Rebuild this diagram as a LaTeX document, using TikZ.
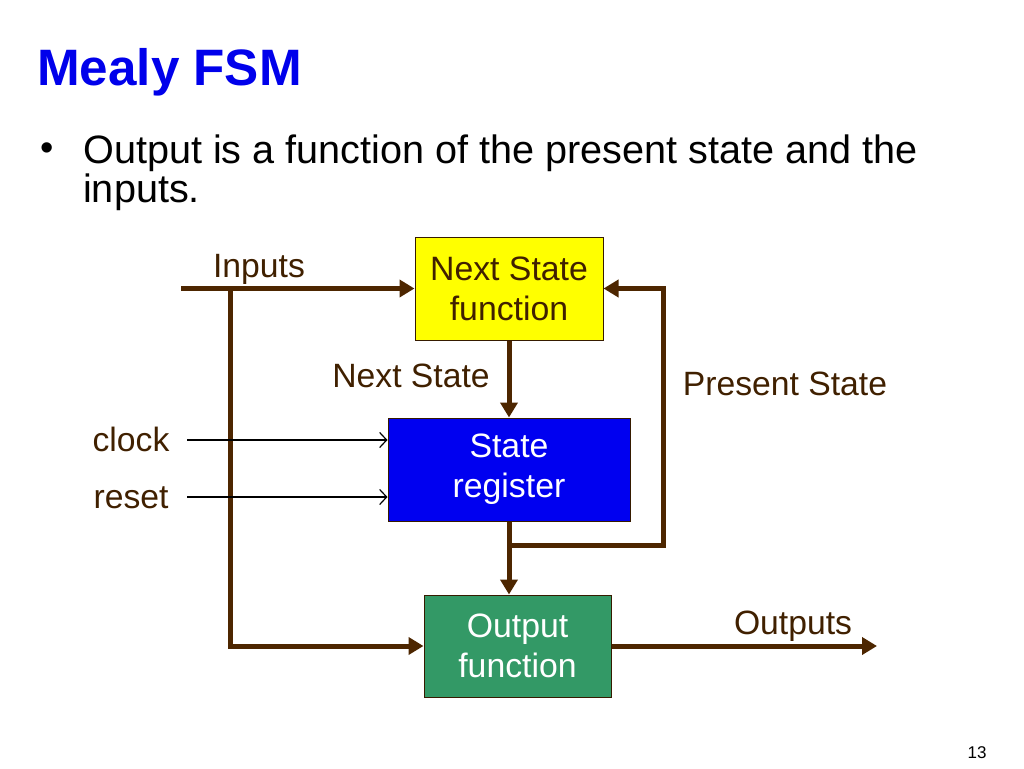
\documentclass[tikz,border=0pt]{standalone}
\usepackage{fontspec}
\setmainfont{Liberation Sans}
\usetikzlibrary{arrows.meta}
\definecolor{brn}{RGB}{77,38,0}
\definecolor{lbl}{RGB}{64,32,0}
\definecolor{ttl}{RGB}{0,0,235}
\definecolor{ylw}{RGB}{255,255,0}
\definecolor{blu}{RGB}{0,0,240}
\definecolor{grn}{RGB}{51,153,102}
\tikzset{
  blk/.style={draw=brn!70!black, line width=1pt, minimum width=#1, inner sep=0pt, align=center,
    font=\fontsize{33.8}{40}\selectfont},
  wire/.style={draw=brn, line width=5pt, -{Triangle[length=15pt,width=17pt]}},
  bare/.style={draw=brn, line width=5pt},
  thin/.style={draw=black, line width=1.2pt, -{Straight Barb[length=7pt,width=15pt]}},
  lab/.style={text=lbl, anchor=base, inner sep=0pt, font=\fontsize{33.7}{36}\selectfont}
}
\begin{document}
\begin{tikzpicture}[x=1pt,y=-1pt]
\useasboundingbox (0,0) rectangle (1024,768);
% title and text
\node[anchor=base west, inner sep=0pt, text=ttl, font=\fontsize{51.2}{60}\selectfont\bfseries] (title) at (37,85) {Mealy FSM};
\node[anchor=base west, inner sep=0pt, font=\fontsize{38}{39}\selectfont] (bul) at (40,160) {•};
\node[anchor=base west, inner sep=0pt, align=left, font=\fontsize{39.6}{39}\selectfont] (body) at (83,202) {Output is a function of the present state and the\\inputs.};
\node[anchor=base, inner sep=0pt, font=\fontsize{17}{20}\selectfont] (pg) at (977,758) {13};
% boxes
\node[blk=188pt, minimum height=103pt, fill=ylw, text=lbl] (nsf) at (509,288.5) {Next State\\function};
\node[blk=242pt, minimum height=103pt, fill=blu, text=white] (reg) at (509,469.5) {State\\register};
\node[blk=187pt, minimum height=102pt, fill=grn, text=white] (out) at (517.5,646) {Output\\function};
% coordinates
\coordinate (inL) at (181,288.5);
\coordinate (j1) at (230,288.5);
\coordinate (fb) at (509,545);
\coordinate (fbR) at (663,545);
\coordinate (outR) at (877,646);
\coordinate (ck) at (187,440);
\coordinate (rs) at (187,497);
% wires
\draw[wire] (inL) -- (nsf.west);
\draw[wire] (j1) |- (out.west);
\draw[wire] (nsf.south) -- (reg.north);
\draw[wire] (reg.south) -- (reg.south |- out.north);
\draw[wire] (fb) -- (fbR) |- (nsf.east);
\draw[wire] (out.east) -- (outR);
\draw[thin] (ck) -- (ck -| reg.west);
\draw[thin] (rs) -- (rs -| reg.west);
% labels
\node[lab] (lin) at (259,277) {Inputs};
\node[lab] (lns) at (411,387) {Next State};
\node[lab] (lps) at (785,395) {Present State};
\node[lab] (lck) at (131,451) {clock};
\node[lab] (lrs) at (131,508) {reset};
\node[lab] (lout) at (793,634) {Outputs};
\end{tikzpicture}
\end{document}
